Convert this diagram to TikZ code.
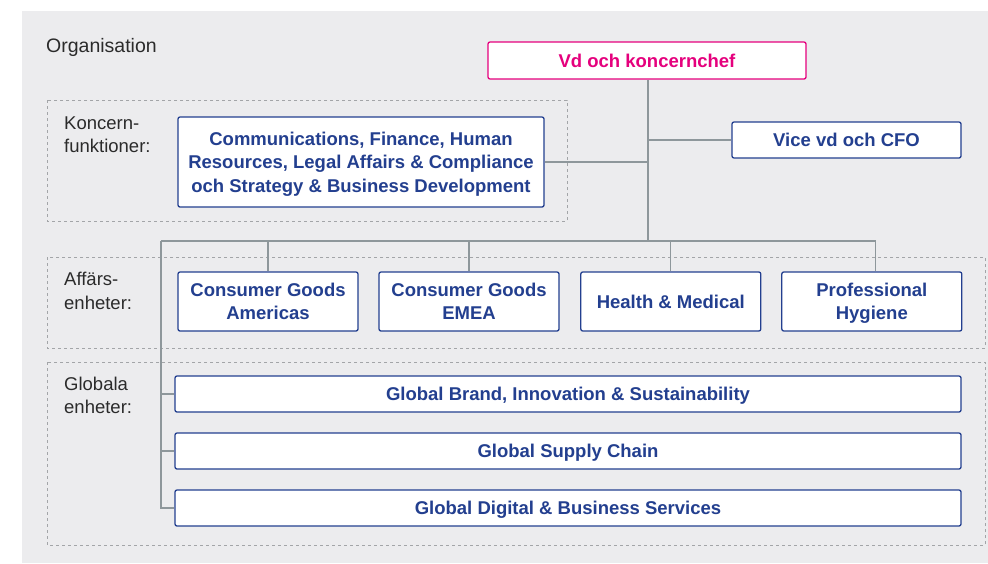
\documentclass[tikz,border=0pt]{standalone}
\usepackage{fontspec}
\setmainfont{Liberation Sans}
\usetikzlibrary{positioning}
\definecolor{orgblue}{HTML}{233F8F}
\definecolor{orgpink}{HTML}{E5007D}
\definecolor{orgline}{HTML}{8E979B}
\definecolor{orgdash}{HTML}{A3A5A8}
\definecolor{orgbg}{HTML}{ECECEE}
\definecolor{orgtext}{HTML}{2B2B2B}
\begin{document}
\begin{tikzpicture}[
  x=1pt,y=-1pt,
  font=\fontsize{18.5}{23.5}\selectfont,
  unit/.style={draw=orgblue,line width=1.3pt,fill=white,rounded corners=2pt,align=center,
    text=orgblue,font=\fontsize{18.5}{23.5}\selectfont\bfseries,inner sep=0pt,text depth=0pt},
  frame/.style={draw=orgdash,dashed,line width=0.9pt,dash pattern=on 3pt off 3pt},
  conn/.style={draw=orgline,line width=1.2pt},
  side/.style={anchor=north west,align=left,text=orgtext,inner sep=0pt,
    font=\fontsize{18.5}{23.5}\selectfont}]
\useasboundingbox (0,0) rectangle (988,563);
\fill[orgbg] (22,11) rectangle (988,563);
\node[anchor=base west,inner sep=0pt,text=orgtext,font=\fontsize{19.5}{23}\selectfont] (title) at (46,52) {Organisation};
% dashed group frames
\draw[frame] (47,100) rectangle (567,221);
\draw[frame] (47,257) rectangle (985,348);
\draw[frame] (47,362) rectangle (985,545);
\node[side] (lblkf) at (64,116.5) {Koncern-\\funktioner:};
\node[side] (lblaf) at (64,272) {Affärs-\\enheter:};
\node[side] (lblgl) at (64,376.5) {Globala\\enheter:};
% top of the tree
\node[unit,draw=orgpink,text=orgpink,minimum width=318pt,minimum height=37pt] (vd) at (647,60.5) {Vd och koncernchef};
\node[unit,minimum width=229pt,minimum height=36pt] (cfo) at (846.5,140) {Vice vd och CFO};
\node[unit,minimum width=366pt,minimum height=90pt] (comm) at (361,162)
  {Communications, Finance, Human\\Resources, Legal Affairs \& Compliance\\och Strategy \& Business Development};
% business units
\node[unit,minimum width=180pt,minimum height=59pt] (cga) at (268,301.5) {Consumer Goods\\Americas};
\node[unit,minimum width=180pt,minimum height=59pt,right=19.7pt of cga] (cge) {Consumer Goods\\EMEA};
\node[unit,minimum width=180pt,minimum height=59pt,right=20.5pt of cge] (hm) {Health \& Medical};
\node[unit,minimum width=180pt,minimum height=59pt,right=19.7pt of hm] (ph) {Professional\\Hygiene};
% global units
\node[unit,minimum width=786pt,minimum height=36pt] (glb) at (568,394) {Global Brand, Innovation \& Sustainability};
\node[unit,minimum width=786pt,minimum height=36pt,below=19.7pt of glb] (gsc) {Global Supply Chain};
\node[unit,minimum width=786pt,minimum height=36pt,below=19.7pt of gsc] (gdb) {Global Digital \& Business Services};
% connectors
\coordinate (bus) at (648,241);
\coordinate (busl) at (161,241);
\coordinate (phtop) at ([xshift=4pt]ph.north);
\draw[conn] (vd.south -| bus) -- (bus);
\draw[conn] (comm.east) -- (comm.east -| bus);
\draw[conn] (cfo.west) -- (cfo.west -| bus);
\draw[conn] (busl) -- (phtop |- bus);
\foreach \u in {cga.north,cge.north,hm.north,phtop}
  \draw[conn] (\u) -- (\u |- bus);
\draw[conn] (busl) -- (busl |- gdb.west) -- (gdb.west);
\foreach \u in {glb,gsc}
  \draw[conn] (\u.west -| busl) -- (\u.west);
\end{tikzpicture}
\end{document}
